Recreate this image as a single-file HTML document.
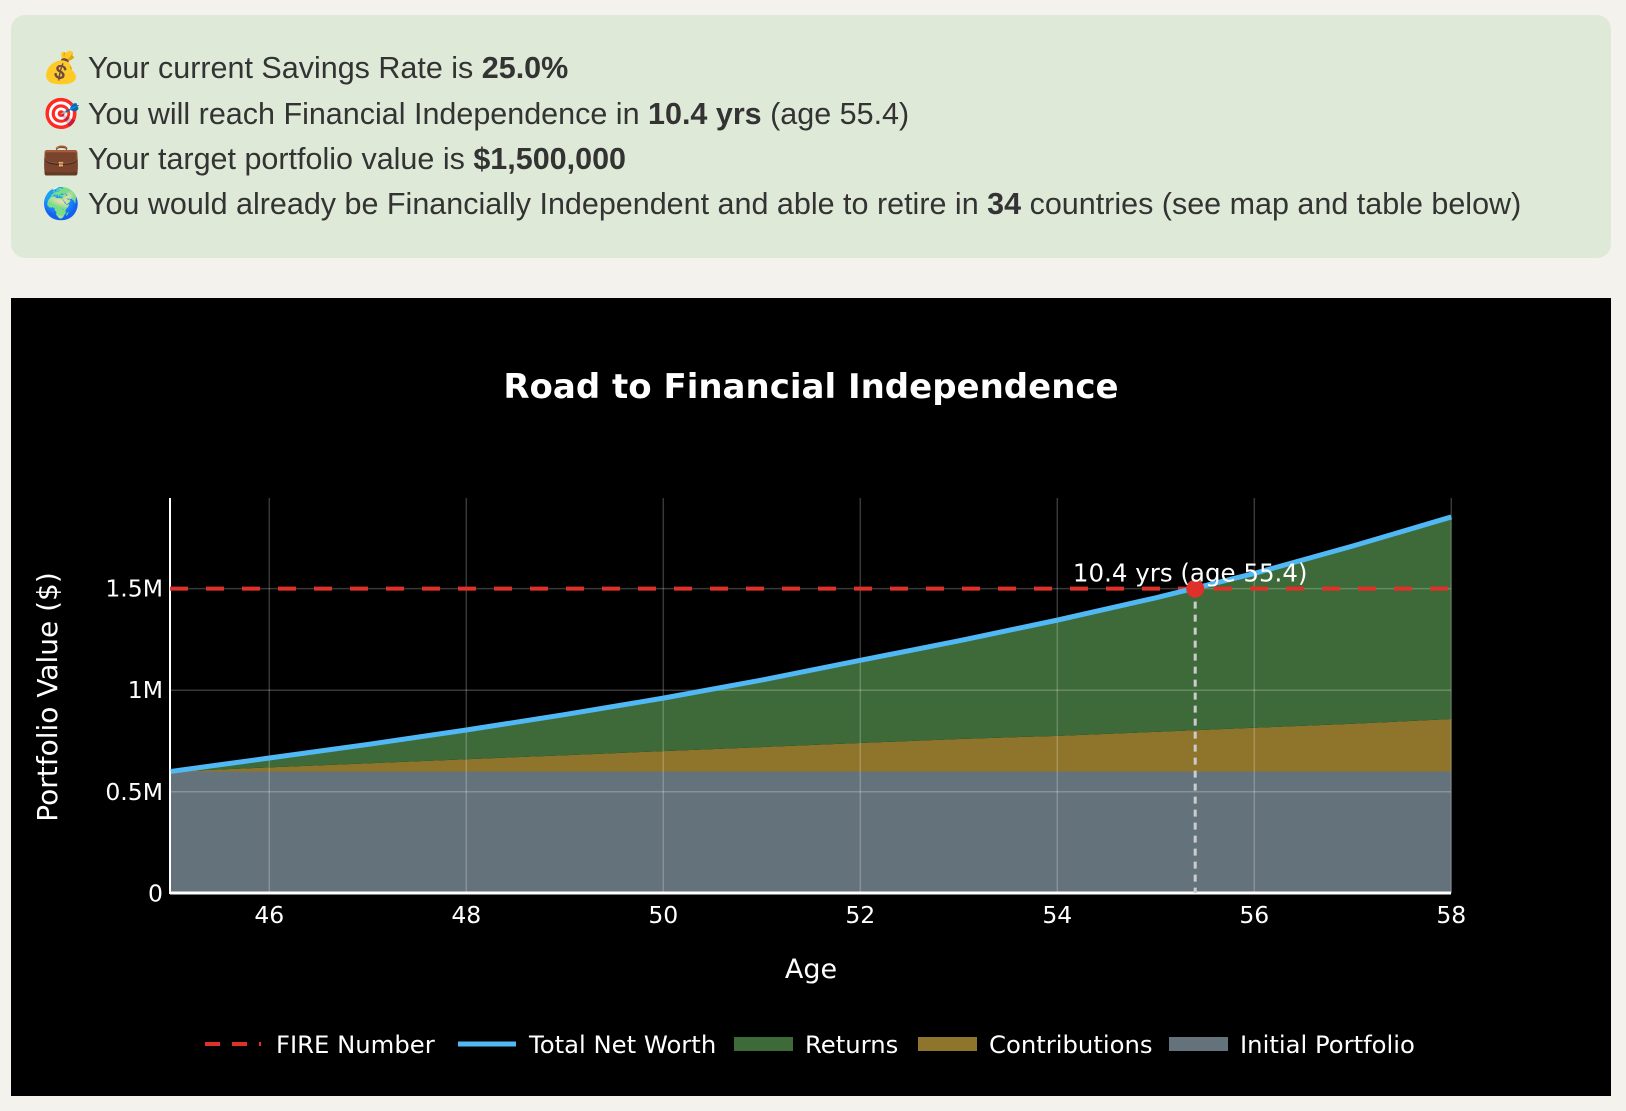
<!DOCTYPE html>
<html><head><meta charset="utf-8"><style>
body{margin:0;width:1626px;height:1111px;background:#f4f2ec;overflow:hidden;font-family:"Liberation Sans","DejaVu Sans",sans-serif;}
#box{position:absolute;left:11px;top:15px;width:1600px;height:243px;background:#dfe9d8;border-radius:14px;}
.ln{position:absolute;left:31px;font-size:30.5px;color:#333;white-space:nowrap;line-height:34px}
.ln b{font-weight:bold}
#chart{position:absolute;left:11px;top:298px;width:1600px;height:798px;background:#000}
svg text{font-family:"DejaVu Sans",Verdana,sans-serif}
</style></head><body>
<div id="box">
<div class="ln" style="top:36px">💰 Your current Savings Rate is <b>25.0%</b></div>
<div class="ln" style="top:82px">🎯 You will reach Financial Independence in <b>10.4 yrs</b> (age 55.4)</div>
<div class="ln" style="top:127px">💼 Your target portfolio value is <b>$1,500,000</b></div>
<div class="ln" style="top:172px">🌍 You would already be Financially Independent and able to retire in <b>34</b> countries (see map and table below)</div>
</div>
<div id="chart"></div>
<svg id="svg" width="1626" height="1111" style="position:absolute;left:0;top:0"></svg>
<script>
const ages=[45,46,47,48,49,50,51,52,53,54,55,56,57,58];
const totalNetWorth=[0.600,0.666,0.733,0.804,0.880,0.961,1.050,1.147,1.243,1.345,1.455,1.575,1.710,1.853];
const contributions=[0.600,0.620,0.640,0.660,0.680,0.700,0.720,0.740,0.760,0.775,0.795,0.815,0.835,0.858];
const initialPortfolio=[0.6,0.6,0.6,0.6,0.6,0.6,0.6,0.6,0.6,0.6,0.6,0.6,0.6,0.6];
const fireNumber=1.5;
const fiAge=55.4;
const xTicks=[46,48,50,52,54,56,58];
const yTicks=[0,0.5,1,1.5];
const yTickLabels=["0","0.5M","1M","1.5M"];

const NS="http://www.w3.org/2000/svg";
const svg=document.getElementById('svg');
const X=a=>170.8+(a-45)*98.5;
const Y=v=>893.3-v*203.1;
function mk(tag,attrs,parent){const e=document.createElementNS(NS,tag);for(const k in attrs)e.setAttribute(k,attrs[k]);(parent||svg).appendChild(e);return e;}
function area(top,bot){let d='M'+X(ages[0])+','+Y(top[0]);for(let i=1;i<ages.length;i++)d+='L'+X(ages[i])+','+Y(top[i]);for(let i=ages.length-1;i>=0;i--)d+='L'+X(ages[i])+','+Y(bot[i]);return d+'Z';}
const zeros=ages.map(()=>0);
let e;
e=mk('text',{x:811,y:398,'text-anchor':'middle',fill:'#fff','font-size':34,'font-weight':'bold'});e.textContent='Road to Financial Independence';


e=mk('path',{d:area(initialPortfolio,zeros),fill:'#64727c'});


e=mk('path',{d:area(contributions,initialPortfolio),fill:'#8f742c'});


e=mk('path',{d:area(totalNetWorth,contributions),fill:'#3d6a38'});


xTicks.forEach(t=>{e=mk('line',{x1:X(t),x2:X(t),y1:498,y2:893,stroke:'rgba(255,255,255,0.22)','stroke-width':1.5});


e=mk('text',{x:X(t),y:923,'text-anchor':'middle',fill:'#fff','font-size':23.5});e.textContent=t;

});
yTicks.forEach((t,i)=>{if(t>0){e=mk('line',{x1:170,x2:1451,y1:Y(t),y2:Y(t),stroke:'rgba(255,255,255,0.22)','stroke-width':1.5});

}
e=mk('text',{x:163,y:Y(t)+8,'text-anchor':'end',fill:'#fff','font-size':23.5});e.textContent=yTickLabels[i];

});
e=mk('line',{x1:170,x2:1451,y1:893,y2:893,stroke:'#fff','stroke-width':3});


e=mk('line',{x1:170,x2:170,y1:498,y2:894,stroke:'#fff','stroke-width':2});


e=mk('line',{x1:170,x2:1451,y1:Y(fireNumber),y2:Y(fireNumber),stroke:'#e0302a','stroke-width':4,'stroke-dasharray':'18,18'});


e=mk('polyline',{points:ages.map((a,i)=>X(a)+','+Y(totalNetWorth[i])).join(' '),fill:'none',stroke:'#4fb8f5','stroke-width':5,'stroke-linejoin':'round'});


e=mk('line',{x1:X(fiAge),x2:X(fiAge),y1:Y(fireNumber),y2:893,stroke:'#ccc','stroke-width':3,'stroke-dasharray':'7,6'});


e=mk('circle',{cx:X(fiAge),cy:Y(fireNumber),r:9,fill:'#e0302a'});


e=mk('text',{x:X(fiAge)-5,y:Y(fireNumber)-7,'text-anchor':'middle',fill:'#fff','font-size':24.5});e.textContent='10.4 yrs (age 55.4)';


e=mk('text',{x:811,y:978,'text-anchor':'middle',fill:'#fff','font-size':27});e.textContent='Age';


e=mk('text',{x:0,y:0,'text-anchor':'middle',fill:'#fff','font-size':28,transform:'translate(57,697) rotate(-90)'});e.textContent='Portfolio Value ($)';


const legNames=['FIRE Number','Total Net Worth','Returns','Contributions','Initial Portfolio'];
const legX=[205,458,734,918,1169];
legNames.forEach((n,i)=>{const x=legX[i],y=1044;
if(i==0)e=mk('line',{x1:x,x2:x+56,y1:y,y2:y,stroke:'#e0302a','stroke-width':4,'stroke-dasharray':'15,12'});
else if(i==1)e=mk('line',{x1:x,x2:x+58,y1:y,y2:y,stroke:'#4fb8f5','stroke-width':5});
else e=mk('rect',{x:x,y:y-7,width:59,height:14,fill:['#3d6a38','#8f742c','#64727c'][i-2]});


e=mk('text',{x:x+71,y:y+9,fill:'#fff','font-size':24.3});e.textContent=n;

});
</script>
</body></html>
